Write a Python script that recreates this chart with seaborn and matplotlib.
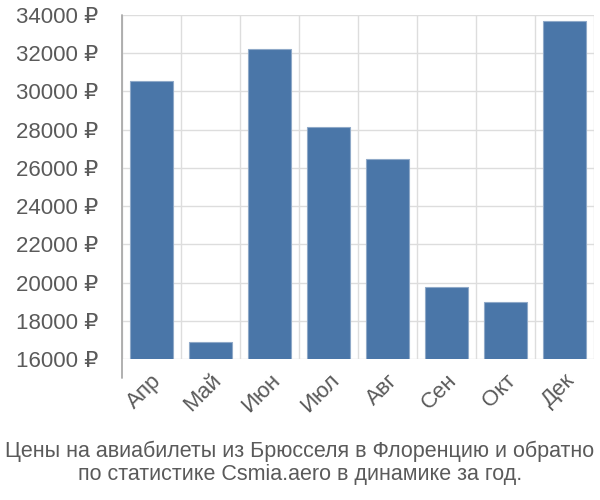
import pandas as pd
import numpy as np
import matplotlib
matplotlib.use('Agg')
import matplotlib.pyplot as plt
import seaborn as sns

months = ['Апр', 'Май', 'Июн', 'Июл', 'Авг', 'Сен', 'Окт', 'Дек']
prices = [30530, 16890, 32200, 28120, 26450, 19770, 18970, 33680]
yticks = [16000, 18000, 20000, 22000, 24000, 26000, 28000, 30000, 32000, 34000]
title = 'Цены на авиабилеты из Брюсселя в Флоренцию и обратно\nпо статистике Csmia.aero в динамике за год.'

BAR_COLOUR = '#4a76a8'
TEXT_COLOUR = '#5a5a5a'
GRID_COLOUR = '#dddddd'

sns.set_style('white')
plt.rcParams['font.family'] = ['Liberation Sans', 'DejaVu Sans']

df = pd.DataFrame({'month': months, 'price': prices})

fig = plt.figure(figsize=(6, 5), dpi=100)
ax = fig.add_axes([0.203, 0.282, 0.787, 0.688])
sns.barplot(data=df, x='month', y='price', color=BAR_COLOUR, width=0.72,
            edgecolor='#8fa9c8', linewidth=0.8, saturation=1, ax=ax, zorder=3)

ax.set_ylim(16000, 34000)
ax.set_xlim(-0.5, len(months) - 0.5)
ax.set_yticks(yticks)
ax.set_yticklabels([f'{v} ₽' for v in yticks], fontsize=16, color=TEXT_COLOUR)
ax.set_xticks(range(len(months)))
ax.set_xticklabels(months, fontsize=16, color=TEXT_COLOUR, rotation=45,
                   ha='right', rotation_mode='anchor')
ax.set_xticks(np.arange(-0.5, len(months)), minor=True)

ax.tick_params(axis='x', which='major', length=0, pad=8)
ax.tick_params(axis='x', which='minor', length=14, color=GRID_COLOUR, width=1)
ax.tick_params(axis='y', length=14, color=GRID_COLOUR, width=1, pad=3)

ax.grid(axis='y', color=GRID_COLOUR, linewidth=1, zorder=0)
ax.grid(axis='x', which='minor', color=GRID_COLOUR, linewidth=1, zorder=0)
ax.set_axisbelow(True)

for s in ['top', 'right', 'bottom', 'left']:
    ax.spines[s].set_visible(False)
# left axis line, running down through the tick area like the reference
ax.plot([0, 0], [-0.055, 1], transform=ax.transAxes, color='#aaaaaa',
        linewidth=1.3, clip_on=False, zorder=4)

ax.set_xlabel('')
ax.set_ylabel('')

fig.text(0.5, 0.03, title, ha='center', va='bottom', fontsize=15.5,
         color=TEXT_COLOUR, linespacing=1.15)

fig.savefig('out.png', dpi=100)
